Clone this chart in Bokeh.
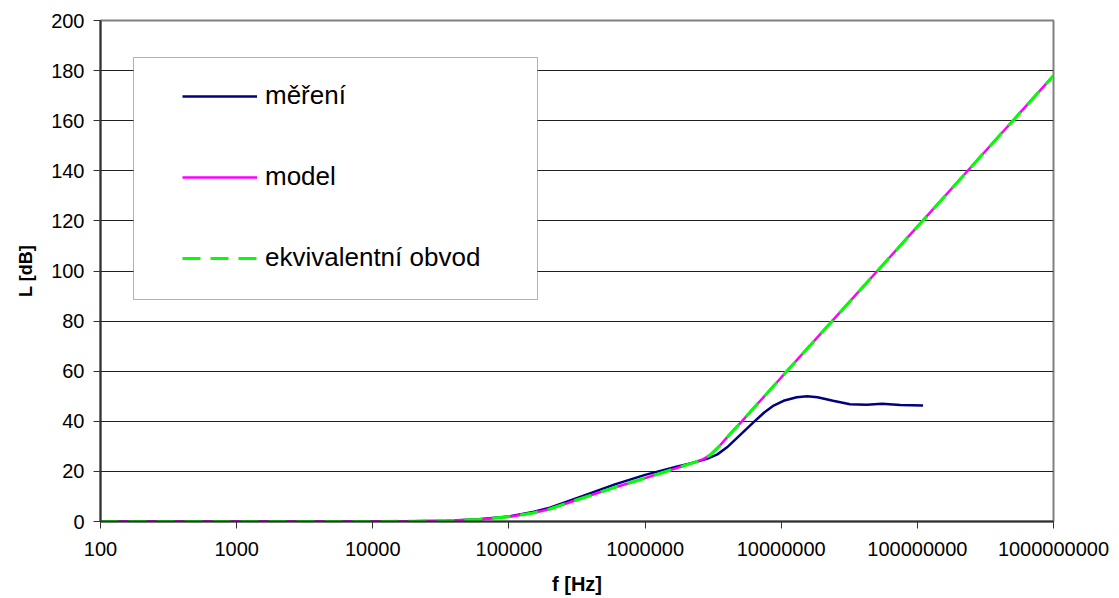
import math
from bokeh.plotting import figure
from bokeh.models import (FixedTicker, CustomJSTickFormatter, Legend, LegendItem,
                          BoxAnnotation)
from bokeh.embed import file_html
from bokeh.resources import INLINE

# Measured insertion loss
freq_meas = [100, 1e3, 1e4, 2e4, 3.5e4, 6e4, 1e5, 1.5e5, 2e5, 3.5e5, 6e5, 1e6,
             1.7e6, 2.3e6, 2.85e6, 3.4e6, 4e6, 5e6, 6.25e6, 7.5e6, 8.8e6, 1.04e7,
             1.3e7, 1.55e7, 1.85e7, 2.4e7, 3.2e7, 4.25e7, 5.5e7, 7.5e7, 1.1e8]
L_meas = [0, 0, 0, 0.1, 0.3, 0.9, 2.0, 3.8, 5.5, 10.2, 14.8, 18.6,
          21.9, 23.6, 25.0, 26.8, 29.6, 34.6, 39.6, 43.5, 46.3, 48.2,
          49.6, 50.0, 49.6, 48.2, 46.8, 46.6, 47.0, 46.5, 46.3]

# Analytical model
freq_model = [100, 1e3, 1e4, 2e4, 3.5e4, 6e4, 1e5, 1.5e5, 2e5, 3.3e5, 5.9e5, 1e6,
              1.7e6, 2.3e6, 2.7e6, 3e6, 3.5e6, 4e6, 5e6, 1e7, 1e8, 1e9]
L_model = [0, 0, 0, 0.1, 0.3, 0.8, 1.9, 3.4, 5.0, 9.0, 13.5, 17.3,
           21.3, 23.6, 25.0, 26.5, 30.0, 33.6, 39.3, 57.5, 117.7, 178.0]

# Equivalent circuit simulation
freq_equiv = list(freq_model)
L_equiv = list(L_model)

x_ticks = [1e2, 1e3, 1e4, 1e5, 1e6, 1e7, 1e8, 1e9]
y_ticks = list(range(0, 201, 20))

W, H = 1119, 598
BL, BR, BT, BB = 100, 66, 20, 77
FONT = "Liberation Sans"

p = figure(width=W, height=H, x_axis_type="log", x_range=(1e2, 1e9), y_range=(0, 200),
           output_backend="svg", toolbar_location=None,
           min_border_left=BL, min_border_right=BR, min_border_top=BT, min_border_bottom=BB)
p.background_fill_color = "white"
p.border_fill_color = "white"
p.outline_line_color = "#808080"
p.outline_line_width = 2

p.xgrid.visible = False
p.ygrid.grid_line_color = "#202020"
p.ygrid.grid_line_width = 1
p.ygrid.ticker = FixedTicker(ticks=y_ticks)

p.xaxis.ticker = FixedTicker(ticks=x_ticks)
p.xaxis.formatter = CustomJSTickFormatter(code="return Math.round(tick).toString();")
p.yaxis.ticker = FixedTicker(ticks=y_ticks)

for ax in (p.xaxis[0], p.yaxis[0]):
    ax.axis_line_color = "#303030"
    ax.axis_line_width = 2
    ax.major_tick_line_color = "#303030"
    ax.major_tick_line_width = 1
    ax.major_tick_in = 0
    ax.major_tick_out = 7
    ax.minor_tick_line_color = None
    ax.major_label_text_font = FONT
    ax.major_label_text_font_size = "20px"
    ax.major_label_text_color = "black"
    ax.axis_label_text_font = FONT
    ax.axis_label_text_font_style = "bold"
    ax.axis_label_text_color = "black"

p.xaxis.axis_label = "f [Hz]"
p.yaxis.axis_label = "L [dB]"
p.xaxis.axis_label_text_font_size = "20px"
p.yaxis.axis_label_text_font_size = "18px"
p.xaxis.major_label_standoff = 13
p.yaxis.major_label_standoff = 9
p.xaxis.axis_label_standoff = 14
p.yaxis.axis_label_standoff = 12

r_meas = p.line(freq_meas, L_meas, line_color="#000080", line_width=2.5)
r_model = p.line(freq_model, L_model, line_color="#FF00FF", line_width=2.5)
r_equiv = p.line(freq_equiv, L_equiv, line_color="#00FF00", line_width=3,
                 line_dash="18 10")

# Legend frame, placed by pixel position inside the plot frame
frame_w = W - BL - BR
frame_h = H - BT - BB


def px_to_x(px):
    return 10 ** (2 + (px - BL) / frame_w * 7)


def py_to_y(py):
    return (BT + frame_h - py) / frame_h * 200


box = BoxAnnotation(left=px_to_x(133), right=px_to_x(537), top=py_to_y(57), bottom=py_to_y(299),
                    fill_color="white", fill_alpha=1.0, line_color="black", line_width=1)
p.add_layout(box)

legend = Legend(items=[LegendItem(label="měření", renderers=[r_meas]),
                       LegendItem(label="model", renderers=[r_model]),
                       LegendItem(label="ekvivalentní obvod", renderers=[r_equiv])],
                location=(82, 248), padding=0, margin=0,
                glyph_width=75, glyph_height=30, label_height=30, spacing=50,
                label_standoff=8,
                label_text_font=FONT, label_text_font_size="26px", label_text_color="black",
                border_line_alpha=0, background_fill_alpha=0)
p.add_layout(legend)

open("out.html", "w").write(file_html(p, INLINE))
